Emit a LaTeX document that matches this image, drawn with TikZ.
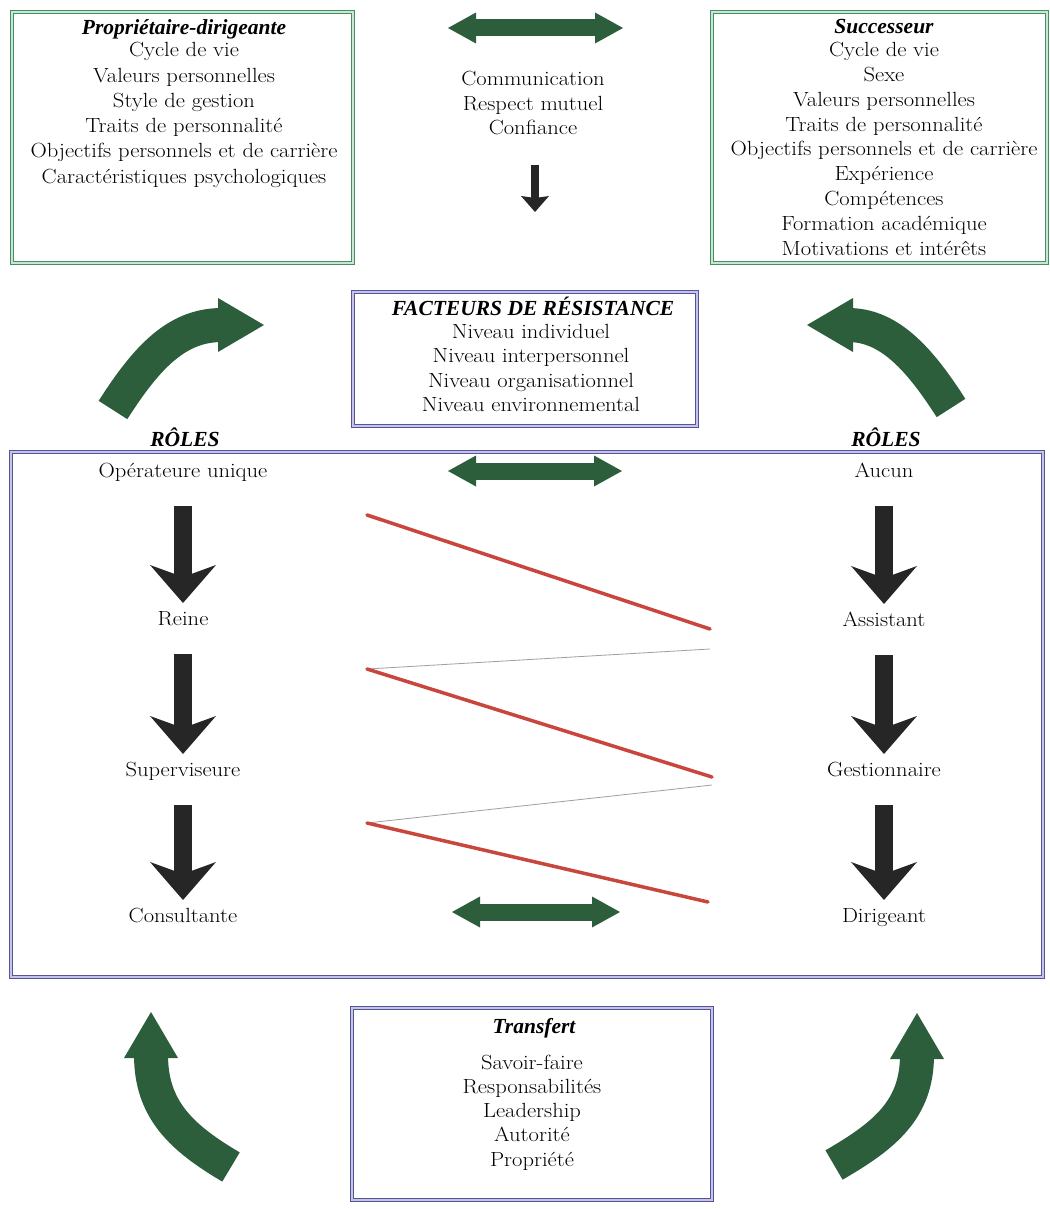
\documentclass[tikz,border=0pt]{standalone}
\usepackage{fontspec}
\setmainfont{Latin Modern Roman}[FakeStretch=1.1]
\newfontfamily\ttlfont{Liberation Serif}
\usetikzlibrary{arrows.meta}
\definecolor{arrowgreen}{RGB}{44,94,60}
\definecolor{gline}{RGB}{70,140,100}
\definecolor{glight}{RGB}{200,230,210}
\definecolor{bline}{RGB}{85,85,150}
\definecolor{blight}{RGB}{195,195,235}
\definecolor{redline}{RGB}{200,70,60}
\definecolor{darkarrow}{RGB}{38,38,38}
\tikzset{
  txt/.style={font=\fontsize{20.5}{24}\selectfont, inner sep=0pt, anchor=base},
  ttl/.style={txt, font=\ttlfont\fontsize{21.5}{24}\selectfont\bfseries\itshape},
  gbox/.style={draw=gline, double=glight, double distance=2pt, line width=1.2pt, rectangle, inner sep=0pt},
  bbox/.style={draw=bline, double=blight, double distance=2pt, line width=1.2pt, rectangle, inner sep=0pt},
  bigdown/.style={draw=darkarrow, line width=18pt, shorten <=29pt, shorten >=22pt,
     -{Stealth[length=38pt,width=66pt,inset=12pt,line width=0pt,fill=darkarrow]}},
  smalldown/.style={draw=darkarrow, line width=8pt,
     -{Stealth[length=16pt,width=28pt,inset=2pt,line width=0pt,fill=darkarrow]}},
  dblgreen/.style={draw=arrowgreen, line width=17pt,
     {Triangle[length=28pt,width=31pt,line width=0pt,fill=arrowgreen]}-{Triangle[length=28pt,width=31pt,line width=0pt,fill=arrowgreen]}},
  curvegreen/.style={draw=arrowgreen, line width=34pt,
     -{Triangle[length=46pt,width=54pt,line width=0pt,fill=arrowgreen]}},
  redl/.style={draw=redline, line width=3.5pt, line cap=round},
  grayl/.style={draw=gray!75, line width=0.8pt}
}
\begin{document}
\begin{tikzpicture}[x=1pt,y=-1pt]
\useasboundingbox (0,0) rectangle (1049,1209);
\fill[white] (0,0) rectangle (1049,1209);

% ---------- boxes ----------
\node[gbox, minimum width=341pt, minimum height=251pt] (pdbox) at (182.5,137.5) {};
\node[gbox, minimum width=335pt, minimum height=251pt] (subox) at (879.5,137.5) {};
\node[bbox, minimum width=344pt, minimum height=134pt] (facbox) at (525,359) {};
\node[bbox, minimum width=1032pt, minimum height=525pt] (rolebox) at (527,714.5) {};
\node[bbox, minimum width=360pt, minimum height=192pt] (trbox) at (532,1104) {};

% ---------- top-left text ----------
\node[ttl] (pdt) at (184,35) {Propriétaire-dirigeante};
\foreach \t [count=\i] in {Cycle de vie, Valeurs personnelles, Style de gestion,
  Traits de personnalité, Objectifs personnels et de carrière, Caractéristiques psychologiques}
  \node[txt] (pd\i) at (184,57+25.2*\i-25.2) {\t};

% ---------- top-right text ----------
\node[ttl] (sut) at (884,34) {Successeur};
\foreach \t [count=\i] in {Cycle de vie, Sexe, Valeurs personnelles, Traits de personnalité,
  Objectifs personnels et de carrière, Expérience, Compétences, Formation académique,
  Motivations et intérêts}
  \node[txt] (su\i) at (884,57+24.75*\i-24.75) {\t};

% ---------- communication ----------
\foreach \t [count=\i] in {Communication, Respect mutuel, Confiance}
  \node[txt] (co\i) at (533,86+24.5*\i-24.5) {\t};

% ---------- resistance ----------
\node[ttl] (fat) at (533,315) {FACTEURS DE RÉSISTANCE};
\foreach \t [count=\i] in {Niveau individuel, Niveau interpersonnel, Niveau organisationnel,
  Niveau environnemental}
  \node[txt] (fa\i) at (531,338+24.6*\i-24.6) {\t};

% ---------- transfert ----------
\node[ttl] (trt) at (534,1033) {Transfert};
\foreach \t [count=\i] in {Savoir-faire, Responsabilités, Leadership, Autorité, Propriété}
  \node[txt] (tr\i) at (532,1069+24.3*\i-24.3) {\t};

% ---------- roles ----------
\node[ttl] (rl) at (185,446) {RÔLES};
\node[ttl] (rr) at (886,446) {RÔLES};
\node[txt] (l1) at (183,477) {Opérateure unique};
\node[txt] (l2) at (183,625) {Reine};
\node[txt] (l3) at (183,776) {Superviseure};
\node[txt] (l4) at (183,922) {Consultante};
\node[txt] (r1) at (884,477) {Aucun};
\node[txt] (r2) at (884,626) {Assistant};
\node[txt] (r3) at (884,776) {Gestionnaire};
\node[txt] (r4) at (884,922) {Dirigeant};

\draw[bigdown] (l1.base) -- (l2.base);
\draw[bigdown] (l2.base) -- (l3.base);
\draw[bigdown] (l3.base) -- (l4.base);
\draw[bigdown] (r1.base) -- (r2.base);
\draw[bigdown] (r2.base) -- (r3.base);
\draw[bigdown] (r3.base) -- (r4.base);

% ---------- straight green double arrows ----------
\coordinate (ta) at (448,28);  \coordinate (tb) at (623,28);
\coordinate (ma) at (448,471); \coordinate (mb) at (622,471);
\coordinate (ba) at (452,912); \coordinate (bb) at (620,912);
\draw[dblgreen] (ta) -- (tb);
\draw[dblgreen] (ma) -- (mb);
\draw[dblgreen] (ba) -- (bb);

% ---------- small down arrow ----------
\coordinate (sa) at (535,165); \coordinate (sb) at (535,212);
\draw[smalldown] (sa) -- (sb);

% ---------- zigzag ----------
\coordinate (z1) at (367,515);
\coordinate (z2) at (710,629);
\coordinate (z3) at (710,649);
\coordinate (z4) at (367,669);
\coordinate (z5) at (712,777);
\coordinate (z6) at (712,785);
\coordinate (z7) at (367,823);
\coordinate (z8) at (708,902);
\draw[redl] (z1) -- (z2);
\draw[grayl] (z3) -- (z4);
\draw[redl] (z4) -- (z5);
\draw[grayl] (z6) -- (z7);
\draw[redl] (z7) -- (z8);

% ---------- curved green arrows ----------
\coordinate (tlA) at (113,410); \coordinate (tlB) at (264,325);
\draw[curvegreen] (tlA) .. controls (148,355) and (178,325) .. (222,325) -- (tlB);
\coordinate (trA) at (951,408); \coordinate (trB) at (807,325);
\draw[curvegreen] (trA) .. controls (916,353) and (886,325) .. (848,325) -- (trB);
\coordinate (blA) at (231,1167); \coordinate (blB) at (151,1012);
\draw[curvegreen] (blA) .. controls (182,1138) and (151,1110) .. (151,1055) -- (blB);
\coordinate (brA) at (834,1165); \coordinate (brB) at (917,1013);
\draw[curvegreen] (brA) .. controls (884,1136) and (917,1110) .. (917,1055) -- (brB);
\end{tikzpicture}
\end{document}
